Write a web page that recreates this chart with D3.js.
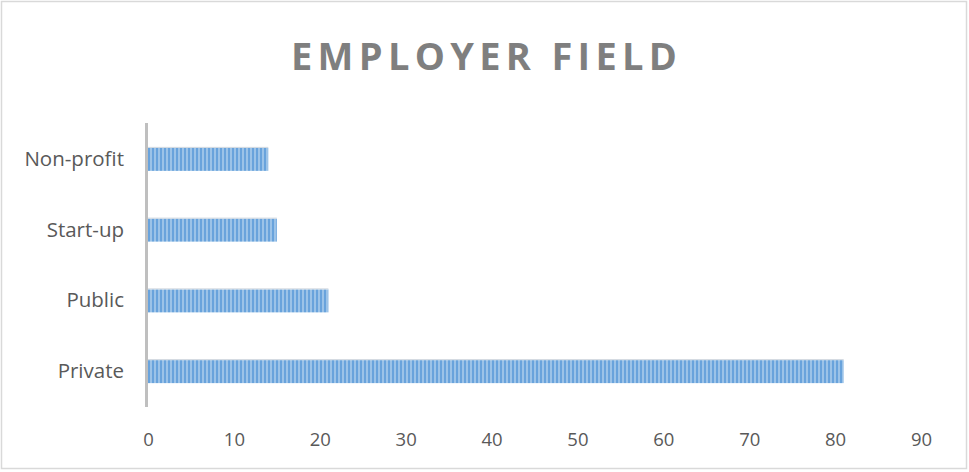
<!DOCTYPE html>
<html>
<head>
<meta charset="utf-8">
<script src="https://cdn.jsdelivr.net/npm/d3@7"></script>
<style>
  html, body { margin: 0; padding: 0; background: #fff; }
  svg { display: block; }
</style>
</head>
<body>
<svg id="chart" width="969" height="472"></svg>
<script>
const categories = ["Non-profit", "Start-up", "Public", "Private"];
const values = [14, 15, 21, 81];
const xTicks = [0, 10, 20, 30, 40, 50, 60, 70, 80, 90];
const title = "EMPLOYER FIELD";

const svg = d3.select("#chart");
const W = 969, H = 472;

// outer border
svg.append("rect")
  .attr("x", 1.5).attr("y", 1.5)
  .attr("width", W - 4).attr("height", H - 5)
  .attr("fill", "#fff").attr("stroke", "#d9d9d9").attr("stroke-width", 1.5);

// stripe pattern
const defs = svg.append("defs");
const pat = defs.append("pattern")
  .attr("id", "stripes").attr("patternUnits", "userSpaceOnUse")
  .attr("width", 4).attr("height", 10).attr("x", 148);
pat.append("rect").attr("width", 4).attr("height", 10).attr("fill", "#9cc3e8");
pat.append("rect").attr("width", 2).attr("height", 10).attr("fill", "#69a3dc");

const x = d3.scaleLinear().domain([0, 90]).range([148, 921]);
const y = d3.scaleBand().domain(categories).range([124, 407]).paddingInner(0.675).paddingOuter(0.3375);

// title: fit to measured span with letter spacing
const t = svg.append("text")
  .attr("x", 291).attr("y", 70)
  .attr("font-family", "'Open Sans', sans-serif")
  .attr("font-weight", "bold")
  .attr("font-size", 38)
  .attr("fill", "#7f7f7f")
  .text(title);
const natural = t.node().getComputedTextLength();
const spacing = (386 - natural) / (title.length - 1);
t.attr("letter-spacing", spacing);

// bars
svg.selectAll("rect.bar")
  .data(categories)
  .join("rect")
  .attr("class", "bar")
  .attr("x", x(0))
  .attr("y", d => y(d))
  .attr("width", (d, i) => x(values[i]) - x(0))
  .attr("height", y.bandwidth())
  .attr("fill", "url(#stripes)");

// subtle top edge of bars
svg.selectAll("line.edge")
  .data(categories)
  .join("line")
  .attr("class", "edge")
  .attr("x1", x(0)).attr("x2", (d, i) => x(values[i]))
  .attr("y1", d => y(d) - 0.5).attr("y2", d => y(d) - 0.5)
  .attr("stroke", "#cfd6de").attr("stroke-width", 1);

// x axis (labels only)
const xAxis = d3.axisBottom(x).tickValues(xTicks).tickSize(0).tickPadding(0);
const gx = svg.append("g").attr("transform", "translate(0,433)").call(xAxis);
gx.select(".domain").remove();
gx.selectAll("text")
  .attr("dy", "0.71em")
  .attr("font-family", "'Open Sans', sans-serif")
  .attr("font-size", 18.5)
  .attr("fill", "#595959");

// y axis
const yAxis = d3.axisLeft(y).tickSize(0).tickPadding(0);
const gy = svg.append("g").attr("transform", "translate(124,0)").call(yAxis);
gy.select(".domain").remove();
gy.selectAll("text")
  .attr("font-family", "'Open Sans', sans-serif")
  .attr("font-size", 20.5)
  .attr("fill", "#595959");

// vertical axis line
svg.append("line")
  .attr("x1", 146.5).attr("x2", 146.5)
  .attr("y1", 123).attr("y2", 407)
  .attr("stroke", "#bfbfbf").attr("stroke-width", 3);
</script>
</body>
</html>
